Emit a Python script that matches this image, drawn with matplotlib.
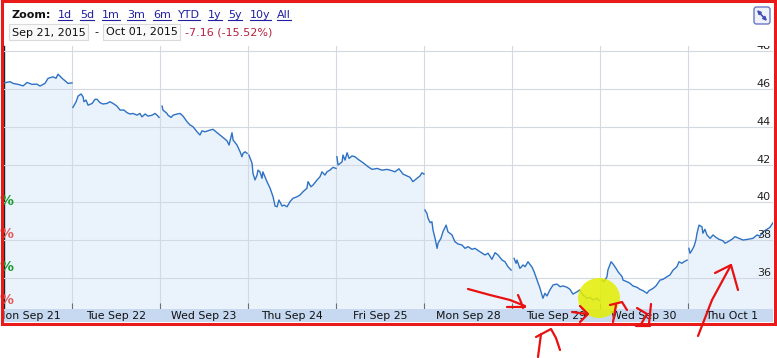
import matplotlib
matplotlib.use("Agg")
import matplotlib.pyplot as plt
from matplotlib.patches import Rectangle, Ellipse, FancyBboxPatch, FancyArrowPatch
from matplotlib.transforms import offset_copy
import numpy as np

W, H = 777, 358

# ---------------- data ----------------
day_labels = ["Mon Sep 21", "Tue Sep 22", "Wed Sep 23", "Thu Sep 24", "Fri Sep 25",
              "Mon Sep 28", "Tue Sep 29", "Wed Sep 30", "Thu Oct 1"]

sep21_min = [89, 115, 129, 151, 173, 191, 213, 235, 248, 270, 284, 306, 319, 328, 346, 359, 372, 390]
sep21_px = [46.33, 46.39, 46.30, 46.25, 46.17, 46.35, 46.25, 46.26, 46.16, 46.30, 46.57, 46.65,
            46.57, 46.79, 46.57, 46.44, 46.30, 46.33]

sep22_min = [4, 18, 27, 40, 49, 53, 62, 71, 89, 102, 111, 124, 137, 155, 168, 182, 199, 213, 230,
             244, 257, 270, 288, 301, 310, 324, 337, 355, 368, 377, 386]
sep22_px = [45.03, 45.33, 45.63, 45.74, 45.59, 45.33, 45.42, 45.15, 45.24, 45.46, 45.46, 45.28,
            45.21, 45.24, 45.33, 45.24, 45.10, 44.89, 44.89, 44.75, 44.68, 44.71, 44.62, 44.71,
            44.53, 44.68, 44.57, 44.62, 44.71, 44.62, 44.50]

sep23_min = [9, 13, 31, 35, 49, 58, 75, 89, 102, 120, 133, 146, 164, 177, 186, 199, 222, 235, 253,
             275, 297, 306, 319, 324, 341, 355, 363, 368, 377, 386]
sep23_px = [45.10, 44.89, 44.71, 44.62, 44.50, 44.62, 44.68, 44.71, 44.57, 44.27, 44.10, 44.01,
            43.74, 43.57, 43.79, 43.74, 43.83, 43.87, 43.69, 43.48, 43.26, 43.04, 43.69, 43.30,
            43.04, 42.68, 42.42, 42.60, 42.68, 42.60]

sep24_min = [4, 18, 22, 31, 40, 44, 53, 62, 66, 75, 84, 98, 111, 120, 129, 137, 151, 160, 173, 186,
             199, 217, 230, 244, 261, 266, 279, 288, 306, 319, 328, 341, 350, 363, 377, 390]
sep24_px = [42.51, 42.07, 41.54, 41.19, 41.45, 41.71, 41.62, 41.28, 41.62, 41.36, 41.10, 40.75,
            40.30, 39.81, 39.77, 40.13, 39.81, 39.86, 39.77, 40.04, 40.22, 40.30, 40.39, 40.57,
            40.75, 41.10, 40.83, 40.92, 41.19, 41.36, 41.62, 41.45, 41.62, 41.71, 41.86, 41.80]

sep25_min = [4, 9, 27, 31, 40, 49, 58, 71, 84, 98, 120, 142, 160, 182, 204, 226, 248, 261, 279,
             297, 315, 328, 341, 359, 372, 381, 390]
sep25_px = [42.42, 41.98, 42.15, 42.51, 42.24, 42.63, 42.33, 42.46, 42.42, 42.28, 42.10, 41.89,
            41.75, 41.80, 41.71, 41.75, 41.68, 41.62, 41.78, 41.50, 41.40, 41.33, 41.10, 41.28,
            41.40, 41.57, 41.50]

sep28_min = [4, 13, 18, 27, 35, 40, 49, 58, 62, 75, 84, 98, 106, 124, 137, 151, 168, 182, 195, 213,
             226, 248, 270, 284, 301, 315, 328, 346, 359, 372, 386]
sep28_px = [39.60, 39.42, 39.16, 38.93, 38.98, 38.54, 38.10, 37.57, 37.84, 38.10, 38.45, 38.80,
            38.45, 38.28, 37.92, 37.80, 37.75, 37.57, 37.66, 37.52, 37.57, 37.39, 37.22, 37.31,
            36.99, 37.34, 37.22, 36.95, 36.86, 36.60, 36.42]

sep29_min = [9, 18, 22, 35, 49, 58, 71, 89, 98, 111, 124, 137, 146, 155, 168, 182, 199, 213, 226,
             244, 257, 270, 288, 301, 315, 332, 346, 359, 377, 386]
sep29_px = [37.04, 36.78, 36.95, 36.51, 36.69, 36.60, 36.86, 36.57, 36.33, 35.89, 35.46, 34.93,
            35.19, 35.05, 35.37, 35.63, 35.68, 35.54, 35.58, 35.51, 35.40, 35.15, 35.27, 35.37,
            35.10, 34.93, 34.98, 34.84, 34.93, 34.80]

sep30_min = [9, 18, 31, 35, 49, 58, 71, 80, 98, 102, 120, 133, 146, 164, 177, 191, 208, 217, 235,
             248, 266, 279, 297, 310, 324, 341, 350, 363, 372, 386]
sep30_px = [35.89, 35.80, 36.07, 36.42, 36.86, 36.74, 36.51, 36.33, 36.07, 35.89, 35.80, 35.72,
            35.58, 35.51, 35.40, 35.33, 35.19, 35.33, 35.45, 35.58, 35.89, 35.93, 36.07, 36.16,
            36.42, 36.60, 36.86, 36.78, 36.86, 36.95]

oct01_min = [4, 9, 18, 27, 35, 40, 49, 62, 66, 75, 84, 98, 111, 124, 137, 155, 164, 177, 195, 208,
             226, 244, 266, 288, 306, 319, 332, 350, 363, 377, 386]
oct01_px = [37.57, 37.31, 37.48, 37.69, 38.01, 38.37, 38.80, 38.71, 38.37, 38.58, 38.28, 38.10,
            38.28, 38.15, 38.05, 37.97, 37.84, 37.92, 38.05, 38.19, 38.10, 38.01, 38.05, 38.10,
            38.28, 38.22, 38.45, 38.58, 38.68, 38.93, 38.97]

session_minutes = 390
y_ticks = [34, 36, 38, 40, 42, 44, 46, 48]
y_tick_labels = ["", "36", "38", "40", "42", "44", "46", "48"]
zoom_links = ["1d", "5d", "1m", "3m", "6m", "YTD", "1y", "5y", "10y", "All"]
range_start = "Sep 21, 2015"
range_end = "Oct 01, 2015"
change_text = "-7.16 (-15.52%)"

days = [(sep21_min, sep21_px), (sep22_min, sep22_px), (sep23_min, sep23_px),
        (sep24_min, sep24_px), (sep25_min, sep25_px), (sep28_min, sep28_px),
        (sep29_min, sep29_px), (sep30_min, sep30_px), (oct01_min, oct01_px)]

# ---------------- figure ----------------
fig = plt.figure(figsize=(W / 100, H / 100), dpi=100)
fig.patch.set_facecolor("white")


def rect(x0, y0, x1, y1):
    return [x0 / W, 1 - y1 / H, (x1 - x0) / W, (y1 - y0) / H]


ax = fig.add_axes(rect(4, 46, 773, 309))
axd = fig.add_axes(rect(4, 309, 773, 322), sharex=ax)

line_color = "#2f72c4"
fill_color = "#eaf3fb"

all_x, all_y = [], []
for d, (mins, pxs) in enumerate(days):
    x = d + np.array(mins) / session_minutes
    ax.plot(x, pxs, color=line_color, lw=1.0, zorder=3, solid_joinstyle="round")
    all_x.extend(x)
    all_y.extend(pxs)
ax.fill_between(all_x, all_y, 0, color=fill_color, lw=0, zorder=1)

ax.set_yticks(y_ticks)
ax.set_xticks(range(1, len(days)))
ax.set_xlim(0.227, 8.966)
ax.set_ylim(34.36, 48.28)
ax.set_axisbelow(False)
ax.grid(True, color="#d3d9e2", lw=0.8)
ax.tick_params(axis="x", direction="in", length=4, width=0.8, color="#707070",
               labelbottom=False)
ax.tick_params(axis="y", length=0, labelleft=False)
for s in ["top", "right", "bottom"]:
    ax.spines[s].set_visible(False)
ax.spines["left"].set_color("#222222")
ax.spines["left"].set_linewidth(1.0)

ytr = offset_copy(ax.get_yaxis_transform(), fig=fig, x=-2, y=5, units="dots")
for v, lab in zip(y_ticks, y_tick_labels):
    if lab:
        ax.text(1.0, v, lab, transform=ytr, ha="right", va="center",
                fontsize=8, color="#222222", clip_on=True, zorder=4)

# date bar
axd.set_facecolor("#c6d9f1")
axd.set_ylim(0, 1)
axd.tick_params(axis="both", length=0, labelbottom=False, labelleft=False)
for s in axd.spines.values():
    s.set_visible(False)
for i, lab in enumerate(day_labels):
    axd.text(i + 0.5, 0.45, lab, ha="center", va="center", fontsize=7.8,
             color="#111111", clip_on=True)

# ---------------- overlay (header, annotations) ----------------
ov = fig.add_axes([0, 0, 1, 1], zorder=10)
ov.set_xlim(0, W)
ov.set_ylim(H, 0)
ov.axis("off")
ov.patch.set_alpha(0)

ov.text(12, 15, "Zoom:", fontsize=8, fontweight="bold", color="#111111",
        ha="left", va="center")
link_x = [58, 80, 102, 127, 153, 178, 208, 228, 250, 277]
link_color = "#2020a0"
link_texts = []
for lx, lab in zip(link_x, zoom_links):
    link_texts.append(ov.text(lx, 15, lab, fontsize=8, color=link_color,
                              ha="left", va="center"))

ov.add_patch(Rectangle((9, 24), 79, 16, fc="#f9f9f9", ec="#dadada", lw=0.8))
ov.add_patch(Rectangle((103, 24), 77, 16, fc="#f9f9f9", ec="#dadada", lw=0.8))
ov.text(12, 32.5, range_start, fontsize=8, color="#111111", ha="left", va="center")
ov.text(94, 32.5, "-", fontsize=8, color="#111111", ha="left", va="center")
ov.text(106, 32.5, range_end, fontsize=8, color="#111111", ha="left", va="center")
ov.text(185, 32.5, change_text, fontsize=8, color="#b5203f", ha="left", va="center")

# expand icon
ov.add_patch(FancyBboxPatch((754, 7), 16, 17, boxstyle="round,pad=0,rounding_size=2.5",
                            ec="#6a78c8", fc="#f0f2fb", lw=1.0))
ov.add_patch(FancyArrowPatch((757.0, 10.0), (767.0, 21.0), arrowstyle="<|-|>",
                             mutation_scale=5, color="#3f4fb0", lw=1.2,
                             shrinkA=0, shrinkB=0))

# cut-off percent markers at the left edge
for yy, cc in zip([201, 234, 267, 300], ["#1a9a2e", "#e05a5a", "#1a9a2e", "#e05a5a"]):
    ov.text(6.5, yy, "%", fontsize=10, fontweight="bold", color=cc, ha="center", va="center")

# yellow highlight
ov.add_patch(Ellipse((599, 298), 42, 40, fc="#e3ee00", ec="none", alpha=0.85, zorder=2))

# red frame
ov.add_patch(Rectangle((1.5, 1.0), 773.5, 322.5, fill=False, ec="#e81a1a", lw=2.2, zorder=5))

# hand-drawn red marks
strokes = [
    [(468, 289), (490, 295), (510, 300), (525, 306)],
    [(518, 295), (521, 302), (523, 308)],
    [(507, 307), (525, 307)],
    [(538, 357), (541, 334)],
    [(536, 337), (551, 329), (556, 338), (560, 350)],
    [(572, 312), (587, 314)],
    [(580, 306), (588, 314), (580, 322)],
    [(610, 305), (622, 302), (627, 310)],
    [(616, 305), (613, 322)],
    [(637, 308), (647, 314), (640, 326)],
    [(636, 326), (650, 326)],
    [(651, 304), (649, 324)],
    [(698, 336), (712, 300), (731, 265)],
    [(715, 273), (731, 265), (738, 290)],
]
for st in strokes:
    xs, ys = zip(*st)
    ov.plot(xs, ys, color="#e81010", lw=1.6, solid_capstyle="round",
            solid_joinstyle="round", zorder=6)

# underline the zoom links
fig.canvas.draw()
renderer = fig.canvas.get_renderer()
for t in link_texts:
    bb = t.get_window_extent(renderer)
    ov.plot([bb.x0, bb.x1], [20, 20], color=link_color, lw=0.8)

fig.savefig("out.png", dpi=100, facecolor="white")
